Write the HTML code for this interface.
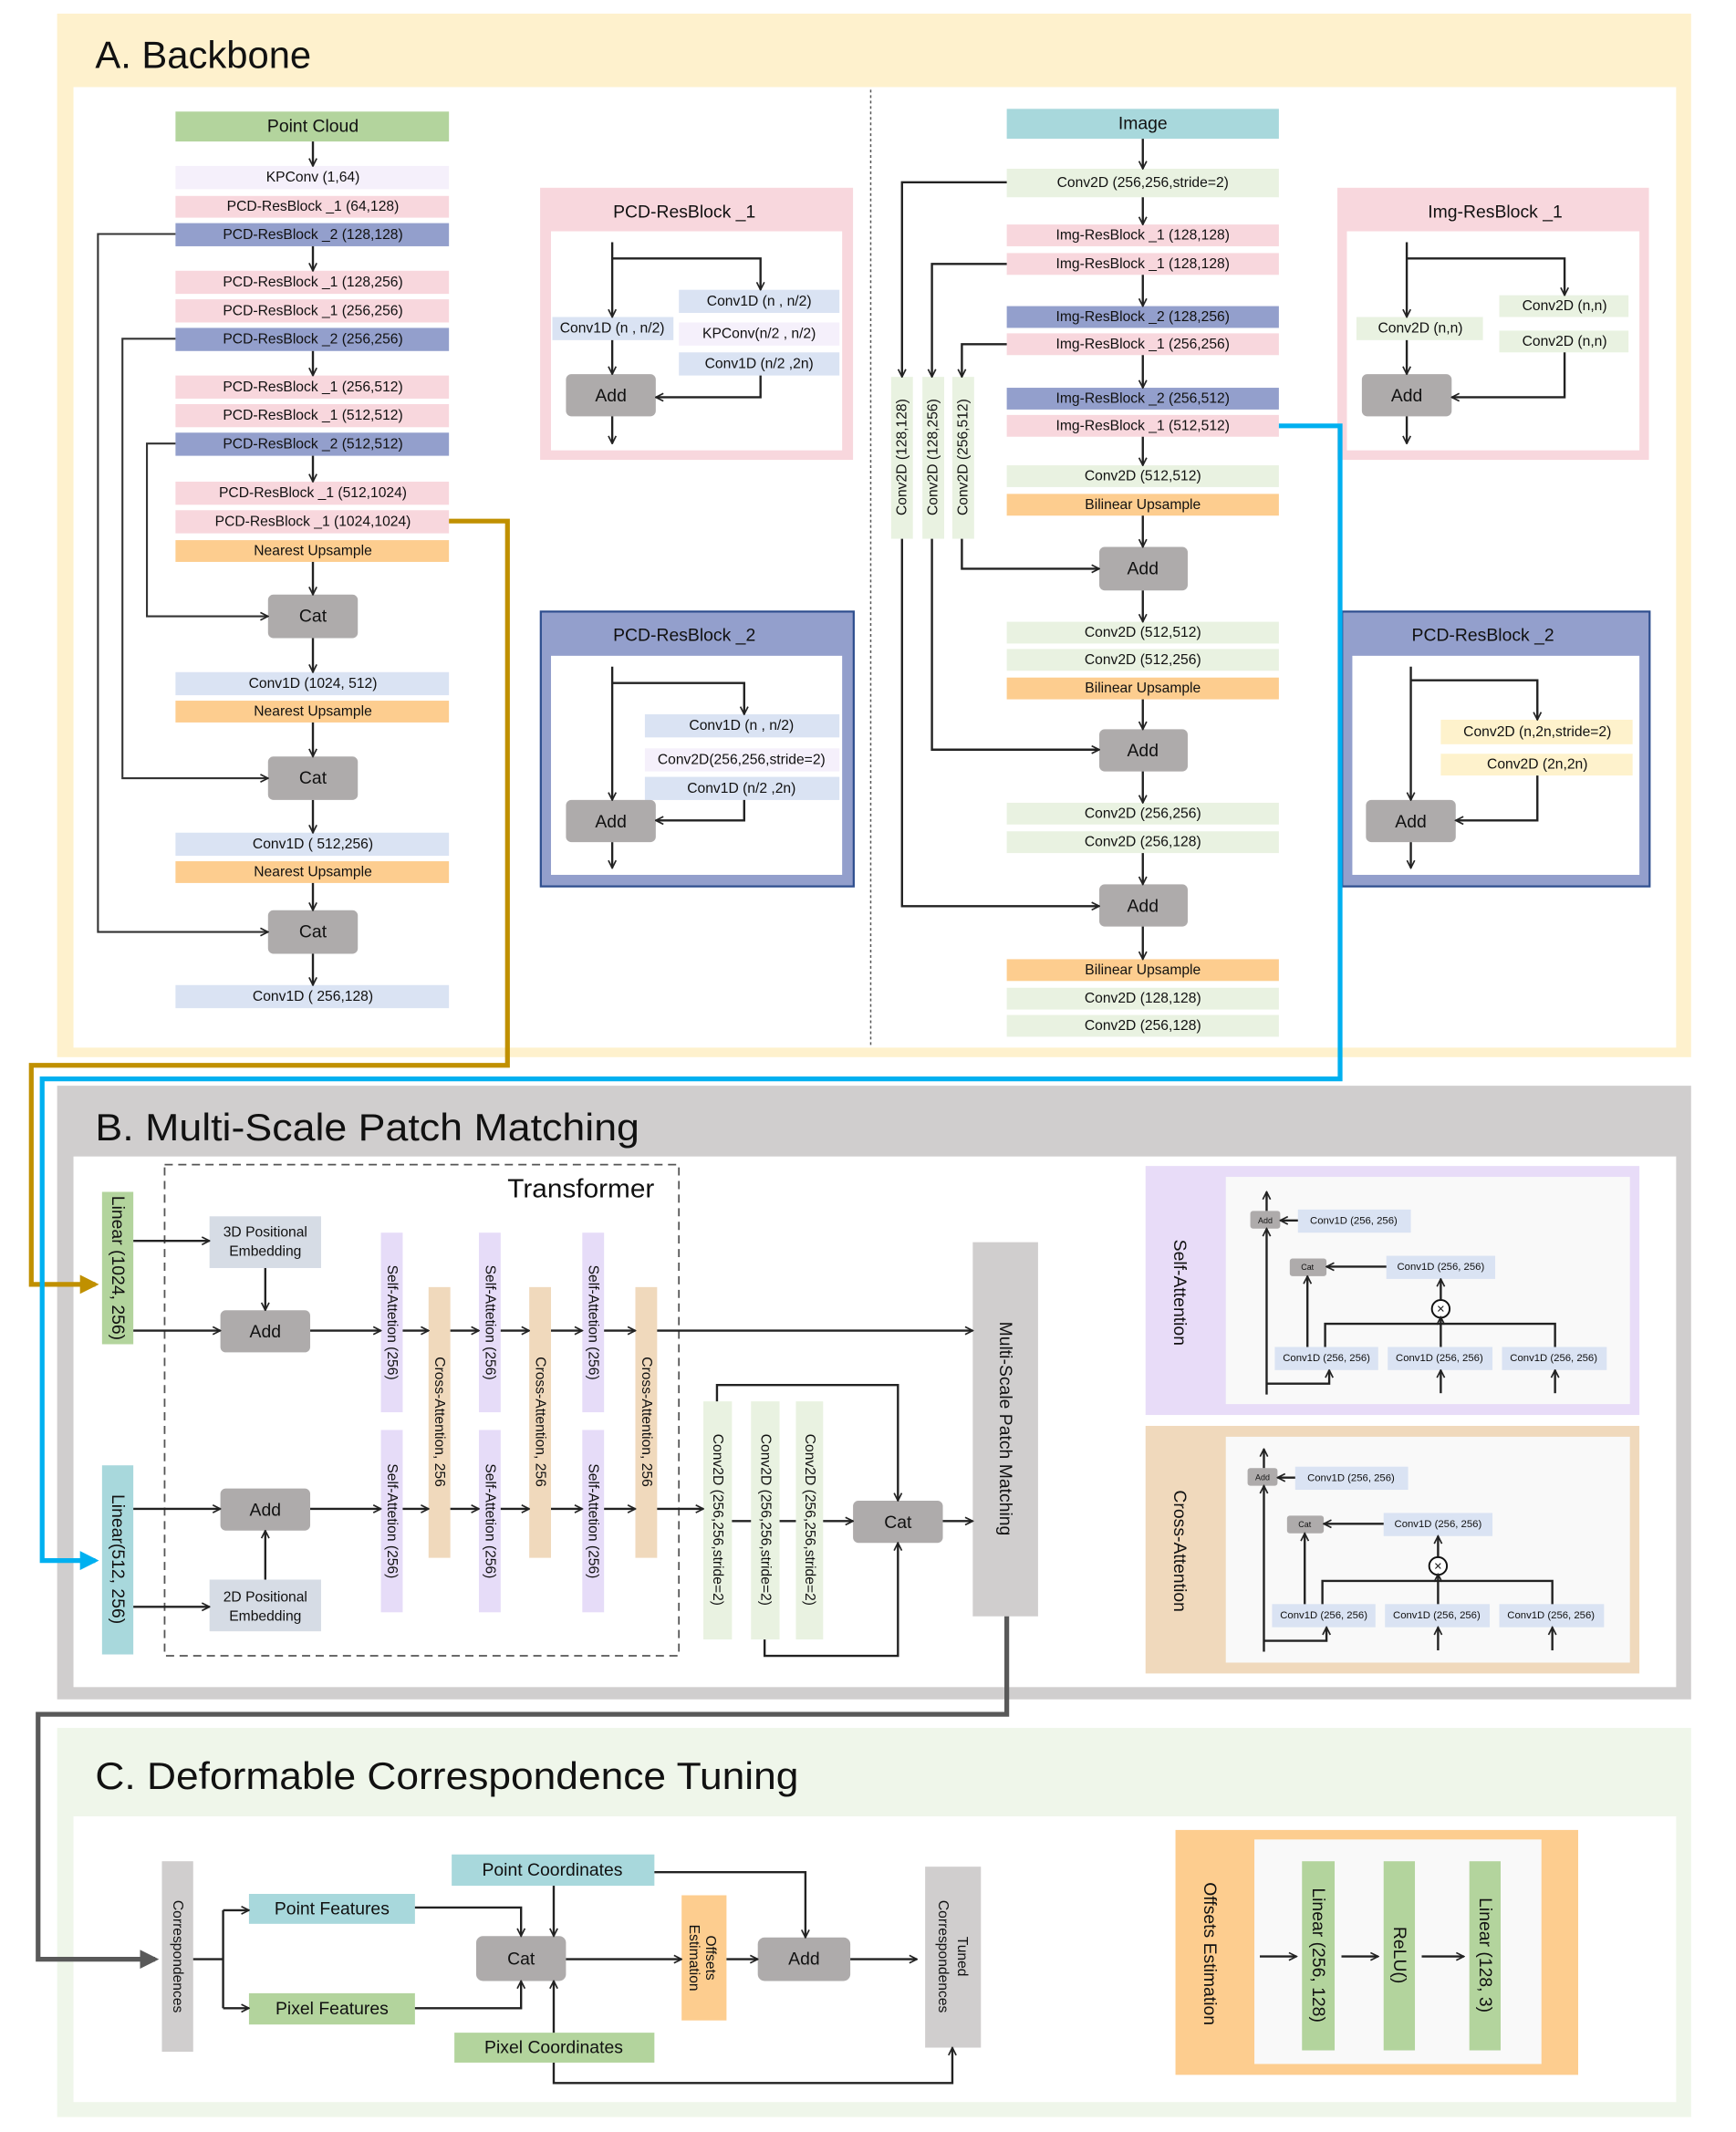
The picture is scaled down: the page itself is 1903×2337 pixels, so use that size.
<!DOCTYPE html>
<html><head><meta charset="utf-8"><style>
html,body{margin:0;padding:0;background:#fff}
svg{display:block}
text{font-family:"Liberation Sans",sans-serif;fill:#111}
.s{font-size:10.5px;text-anchor:middle;dominant-baseline:central}
.m{font-size:13px;text-anchor:middle;dominant-baseline:central}
.t{font-size:7.6px;text-anchor:middle;dominant-baseline:central}
.l{stroke:#333;stroke-width:1.4;fill:none}
.k{stroke:#222;stroke-width:1.6;fill:none}
</style></head><body>
<svg width="1903" height="2337" viewBox="0 0 1276 1567" preserveAspectRatio="none" xmlns="http://www.w3.org/2000/svg">
<defs>
<marker id="a" viewBox="0 0 10 10" refX="9" refY="5" markerWidth="7" markerHeight="7" orient="auto" markerUnits="userSpaceOnUse"><path d="M1,1 L9,5 L1,9" fill="none" stroke="#222" stroke-width="1.6"/></marker>
<marker id="g" viewBox="0 0 10 10" refX="8" refY="5" markerWidth="4" markerHeight="4" orient="auto"><path d="M0,0 L10,5 L0,10z" fill="#c09000"/></marker>
<marker id="c" viewBox="0 0 10 10" refX="8" refY="5" markerWidth="4" markerHeight="4" orient="auto"><path d="M0,0 L10,5 L0,10z" fill="#00b0f0"/></marker>
<marker id="d" viewBox="0 0 10 10" refX="8" refY="5" markerWidth="4" markerHeight="4" orient="auto"><path d="M0,0 L10,5 L0,10z" fill="#595959"/></marker>
</defs>

<!-- ===== A ===== -->
<rect x="42" y="10" width="1201" height="767" fill="#fef1cd"/>
<rect x="54" y="64" width="1178" height="706" fill="#fff"/>
<text x="70" y="50" font-size="28">A. Backbone</text>
<line x1="640" y1="66" x2="640" y2="770" stroke="#555" stroke-width="1" stroke-dasharray="2,2"/>

<g>
<rect x="129" y="82" width="201" height="22" fill="#b3d49d"/><text class="m" x="230" y="93">Point Cloud</text>
<rect x="129" y="122" width="201" height="17" fill="#f5f0fb"/><text class="s" x="230" y="130.5">KPConv (1,64)</text>
<rect x="129" y="144" width="201" height="16" fill="#f8d7dd"/><text class="s" x="230" y="152">PCD-ResBlock _1 (64,128)</text>
<rect x="129" y="164" width="201" height="17" fill="#939fcc"/><text class="s" x="230" y="172.5">PCD-ResBlock _2 (128,128)</text>
<rect x="129" y="199" width="201" height="17" fill="#f8d7dd"/><text class="s" x="230" y="207.5">PCD-ResBlock _1 (128,256)</text>
<rect x="129" y="220" width="201" height="17" fill="#f8d7dd"/><text class="s" x="230" y="228.5">PCD-ResBlock _1 (256,256)</text>
<rect x="129" y="241" width="201" height="17" fill="#939fcc"/><text class="s" x="230" y="249.5">PCD-ResBlock _2 (256,256)</text>
<rect x="129" y="276" width="201" height="17" fill="#f8d7dd"/><text class="s" x="230" y="284.5">PCD-ResBlock _1 (256,512)</text>
<rect x="129" y="297" width="201" height="17" fill="#f8d7dd"/><text class="s" x="230" y="305.5">PCD-ResBlock _1 (512,512)</text>
<rect x="129" y="318" width="201" height="17" fill="#939fcc"/><text class="s" x="230" y="326.5">PCD-ResBlock _2 (512,512)</text>
<rect x="129" y="354" width="201" height="17" fill="#f8d7dd"/><text class="s" x="230" y="362.5">PCD-ResBlock _1 (512,1024)</text>
<rect x="129" y="375" width="201" height="17" fill="#f8d7dd"/><text class="s" x="230" y="383.5">PCD-ResBlock _1 (1024,1024)</text>
<rect x="129" y="397" width="201" height="16" fill="#fdcd8f"/><text class="s" x="230" y="405">Nearest Upsample</text>
<rect x="197" y="437" width="66" height="32" rx="4" fill="#aeabab"/><text class="m" x="230" y="453">Cat</text>
<rect x="129" y="494" width="201" height="17" fill="#dae3f3"/><text class="s" x="230" y="502.5">Conv1D (1024, 512)</text>
<rect x="129" y="515" width="201" height="16" fill="#fdcd8f"/><text class="s" x="230" y="523">Nearest Upsample</text>
<rect x="197" y="556" width="66" height="32" rx="4" fill="#aeabab"/><text class="m" x="230" y="572">Cat</text>
<rect x="129" y="612" width="201" height="17" fill="#dae3f3"/><text class="s" x="230" y="620.5">Conv1D ( 512,256)</text>
<rect x="129" y="633" width="201" height="16" fill="#fdcd8f"/><text class="s" x="230" y="641">Nearest Upsample</text>
<rect x="197" y="669" width="66" height="32" rx="4" fill="#aeabab"/><text class="m" x="230" y="685">Cat</text>
<rect x="129" y="724" width="201" height="17" fill="#dae3f3"/><text class="s" x="230" y="732.5">Conv1D ( 256,128)</text>
<g class="k">
<line x1="230" y1="104" x2="230" y2="122" marker-end="url(#a)"/>
<line x1="230" y1="181" x2="230" y2="199" marker-end="url(#a)"/>
<line x1="230" y1="258" x2="230" y2="276" marker-end="url(#a)"/>
<line x1="230" y1="335" x2="230" y2="354" marker-end="url(#a)"/>
<line x1="230" y1="413" x2="230" y2="437" marker-end="url(#a)"/>
<line x1="230" y1="469" x2="230" y2="494" marker-end="url(#a)"/>
<line x1="230" y1="531" x2="230" y2="556" marker-end="url(#a)"/>
<line x1="230" y1="588" x2="230" y2="612" marker-end="url(#a)"/>
<line x1="230" y1="649" x2="230" y2="669" marker-end="url(#a)"/>
<line x1="230" y1="701" x2="230" y2="724" marker-end="url(#a)"/>
</g>
<g class="l">
<polyline points="129,172 72,172 72,685 197,685" marker-end="url(#a)"/>
<polyline points="129,249 90,249 90,572 197,572" marker-end="url(#a)"/>
<polyline points="129,326 108,326 108,453 197,453" marker-end="url(#a)"/>
</g>
</g>

<rect x="397" y="138" width="230" height="200" fill="#f8d7dd"/>
<rect x="405" y="170" width="214" height="161" fill="#fff"/>
<text x="503" y="156" class="m">PCD-ResBlock _1</text>
<rect x="406" y="233" width="89" height="17" fill="#dae3f3"/><text class="s" x="450" y="241.5">Conv1D (n , n/2)</text>
<rect x="499" y="213" width="118" height="17" fill="#dae3f3"/><text class="s" x="558" y="221.5">Conv1D (n , n/2)</text>
<rect x="499" y="237" width="118" height="17" fill="#f5f0fb"/><text class="s" x="558" y="245.5">KPConv(n/2 , n/2)</text>
<rect x="499" y="259" width="118" height="17" fill="#dae3f3"/><text class="s" x="558" y="267.5">Conv1D (n/2 ,2n)</text>
<rect x="416" y="275" width="66" height="31" rx="4" fill="#aeabab"/><text class="m" x="449" y="291">Add</text>
<g class="k">
<line x1="450" y1="178" x2="450" y2="233" marker-end="url(#a)"/>
<polyline points="450,190 559,190 559,213" marker-end="url(#a)"/>
<line x1="450" y1="250" x2="450" y2="275" marker-end="url(#a)"/>
<polyline points="559,276 559,292 482,292" marker-end="url(#a)"/>
<line x1="450" y1="306" x2="450" y2="326" marker-end="url(#a)"/>
</g>

<rect x="397.5" y="449.5" width="230" height="202" fill="#939fcc" stroke="#2f4f8f" stroke-width="1.5"/>
<rect x="405" y="482" width="214" height="161" fill="#fff"/>
<text x="503" y="467" class="m">PCD-ResBlock _2</text>
<rect x="474" y="525" width="143" height="17" fill="#dae3f3"/><text class="s" x="545" y="533.5">Conv1D (n , n/2)</text>
<rect x="474" y="550" width="143" height="17" fill="#f5f0fb"/><text class="s" x="545" y="558.5">Conv2D(256,256,stride=2)</text>
<rect x="474" y="571" width="143" height="17" fill="#dae3f3"/><text class="s" x="545" y="579.5">Conv1D (n/2 ,2n)</text>
<rect x="416" y="588" width="66" height="31" rx="4" fill="#aeabab"/><text class="m" x="449" y="604">Add</text>
<g class="k">
<line x1="450" y1="490" x2="450" y2="588" marker-end="url(#a)"/>
<polyline points="450,502 547,502 547,525" marker-end="url(#a)"/>
<polyline points="547,588 547,603 482,603" marker-end="url(#a)"/>
<line x1="450" y1="619" x2="450" y2="638" marker-end="url(#a)"/>
</g>

<g>
<rect x="740" y="80" width="200" height="22" fill="#a8d8dc"/><text class="m" x="840" y="91">Image</text>
<rect x="740" y="124" width="200" height="21" fill="#e9f2e1"/><text class="s" x="840" y="134.5">Conv2D (256,256,stride=2)</text>
<rect x="740" y="165" width="200" height="16" fill="#f8d7dd"/><text class="s" x="840" y="173">Img-ResBlock _1 (128,128)</text>
<rect x="740" y="186" width="200" height="16" fill="#f8d7dd"/><text class="s" x="840" y="194">Img-ResBlock _1 (128,128)</text>
<rect x="740" y="225" width="200" height="16" fill="#939fcc"/><text class="s" x="840" y="233">Img-ResBlock _2 (128,256)</text>
<rect x="740" y="245" width="200" height="16" fill="#f8d7dd"/><text class="s" x="840" y="253">Img-ResBlock _1 (256,256)</text>
<rect x="740" y="285" width="200" height="16" fill="#939fcc"/><text class="s" x="840" y="293">Img-ResBlock _2 (256,512)</text>
<rect x="740" y="305" width="200" height="16" fill="#f8d7dd"/><text class="s" x="840" y="313">Img-ResBlock _1 (512,512)</text>
<rect x="740" y="342" width="200" height="16" fill="#e9f2e1"/><text class="s" x="840" y="350">Conv2D (512,512)</text>
<rect x="740" y="363" width="200" height="16" fill="#fdcd8f"/><text class="s" x="840" y="371">Bilinear Upsample</text>
<rect x="808" y="402" width="65" height="32" rx="4" fill="#aeabab"/><text class="m" x="840" y="418">Add</text>
<rect x="740" y="457" width="200" height="16" fill="#e9f2e1"/><text class="s" x="840" y="465">Conv2D (512,512)</text>
<rect x="740" y="477" width="200" height="16" fill="#e9f2e1"/><text class="s" x="840" y="485">Conv2D (512,256)</text>
<rect x="740" y="498" width="200" height="16" fill="#fdcd8f"/><text class="s" x="840" y="506">Bilinear Upsample</text>
<rect x="808" y="536" width="65" height="31" rx="4" fill="#aeabab"/><text class="m" x="840" y="552">Add</text>
<rect x="740" y="590" width="200" height="16" fill="#e9f2e1"/><text class="s" x="840" y="598">Conv2D (256,256)</text>
<rect x="740" y="611" width="200" height="16" fill="#e9f2e1"/><text class="s" x="840" y="619">Conv2D (256,128)</text>
<rect x="808" y="650" width="65" height="31" rx="4" fill="#aeabab"/><text class="m" x="840" y="666">Add</text>
<rect x="740" y="705" width="200" height="16" fill="#fdcd8f"/><text class="s" x="840" y="713">Bilinear Upsample</text>
<rect x="740" y="726" width="200" height="16" fill="#e9f2e1"/><text class="s" x="840" y="734">Conv2D (128,128)</text>
<rect x="740" y="746" width="200" height="16" fill="#e9f2e1"/><text class="s" x="840" y="754">Conv2D (256,128)</text>
<rect x="655" y="277" width="16" height="119" fill="#e9f2e1"/><text class="s" transform="translate(663,336) rotate(-90)">Conv2D (128,128)</text>
<rect x="678" y="277" width="16" height="119" fill="#e9f2e1"/><text class="s" transform="translate(686,336) rotate(-90)">Conv2D (128,256)</text>
<rect x="700" y="277" width="16" height="119" fill="#e9f2e1"/><text class="s" transform="translate(708,336) rotate(-90)">Conv2D (256,512)</text>
<g class="k">
<line x1="840" y1="102" x2="840" y2="124" marker-end="url(#a)"/>
<line x1="840" y1="145" x2="840" y2="165" marker-end="url(#a)"/>
<line x1="840" y1="202" x2="840" y2="225" marker-end="url(#a)"/>
<line x1="840" y1="261" x2="840" y2="285" marker-end="url(#a)"/>
<line x1="840" y1="321" x2="840" y2="342" marker-end="url(#a)"/>
<line x1="840" y1="379" x2="840" y2="402" marker-end="url(#a)"/>
<line x1="840" y1="434" x2="840" y2="457" marker-end="url(#a)"/>
<line x1="840" y1="514" x2="840" y2="536" marker-end="url(#a)"/>
<line x1="840" y1="567" x2="840" y2="590" marker-end="url(#a)"/>
<line x1="840" y1="627" x2="840" y2="650" marker-end="url(#a)"/>
<line x1="840" y1="681" x2="840" y2="705" marker-end="url(#a)"/>
<polyline points="740,134 663,134 663,277" marker-end="url(#a)"/>
<polyline points="740,194 685,194 685,277" marker-end="url(#a)"/>
<polyline points="740,253 707,253 707,277" marker-end="url(#a)"/>
<polyline points="707,396 707,418 808,418" marker-end="url(#a)"/>
<polyline points="685,396 685,551 808,551" marker-end="url(#a)"/>
<polyline points="663,396 663,666 808,666" marker-end="url(#a)"/>
</g>
</g>

<rect x="983" y="138" width="229" height="200" fill="#f8d7dd"/>
<rect x="990" y="170" width="215" height="161" fill="#fff"/>
<text x="1099" y="156" class="m">Img-ResBlock _1</text>
<rect x="997" y="233" width="93" height="17" fill="#e9f2e1"/><text class="s" x="1044" y="241.5">Conv2D (n,n)</text>
<rect x="1102" y="217" width="95" height="16" fill="#e9f2e1"/><text class="s" x="1150" y="225">Conv2D (n,n)</text>
<rect x="1102" y="243" width="95" height="16" fill="#e9f2e1"/><text class="s" x="1150" y="251">Conv2D (n,n)</text>
<rect x="1001" y="275" width="66" height="31" rx="4" fill="#aeabab"/><text class="m" x="1034" y="291">Add</text>
<g class="k">
<line x1="1034" y1="178" x2="1034" y2="233" marker-end="url(#a)"/>
<polyline points="1034,190 1150,190 1150,217" marker-end="url(#a)"/>
<line x1="1034" y1="250" x2="1034" y2="275" marker-end="url(#a)"/>
<polyline points="1150,259 1150,292 1067,292" marker-end="url(#a)"/>
<line x1="1034" y1="306" x2="1034" y2="326" marker-end="url(#a)"/>
</g>

<rect x="986.5" y="449.5" width="226" height="202" fill="#939fcc" stroke="#2f4f8f" stroke-width="1.5"/>
<rect x="994" y="482" width="211" height="161" fill="#fff"/>
<text x="1090" y="467" class="m">PCD-ResBlock _2</text>
<rect x="1059" y="529" width="141" height="18" fill="#fef2cc"/><text class="s" x="1130" y="538">Conv2D (n,2n,stride=2)</text>
<rect x="1059" y="554" width="141" height="16" fill="#fef2cc"/><text class="s" x="1130" y="562">Conv2D (2n,2n)</text>
<rect x="1004" y="588" width="66" height="31" rx="4" fill="#aeabab"/><text class="m" x="1037" y="604">Add</text>
<g class="k">
<line x1="1037" y1="490" x2="1037" y2="588" marker-end="url(#a)"/>
<polyline points="1037,500 1130,500 1130,529" marker-end="url(#a)"/>
<polyline points="1130,570 1130,603 1070,603" marker-end="url(#a)"/>
<line x1="1037" y1="619" x2="1037" y2="638" marker-end="url(#a)"/>
</g>

<!-- ===== B ===== -->
<rect x="42" y="798" width="1201" height="451" fill="#d0cece"/>
<rect x="54" y="850" width="1178" height="390" fill="#fff"/>
<text x="70" y="838" font-size="28" textLength="400" lengthAdjust="spacingAndGlyphs">B. Multi-Scale Patch Matching</text>
<rect x="121" y="856" width="378" height="361" fill="none" stroke="#555" stroke-width="1.2" stroke-dasharray="6,4"/>
<text x="481" y="880" font-size="19" text-anchor="end" textLength="108" lengthAdjust="spacingAndGlyphs">Transformer</text>

<rect x="75" y="876" width="23" height="112" fill="#b3d49d"/><text class="m" transform="translate(86.5,932) rotate(90)">Linear (1024, 256)</text>
<rect x="75" y="1077" width="23" height="139" fill="#a8d8dc"/><text class="m" transform="translate(86.5,1146) rotate(90)">Linear(512, 256)</text>
<rect x="154" y="894" width="82" height="38" fill="#d6dce5"/><text class="s" x="195" y="906">3D Positional</text><text class="s" x="195" y="920">Embedding</text>
<rect x="162" y="963" width="66" height="31" rx="4" fill="#aeabab"/><text class="m" x="195" y="979">Add</text>
<rect x="162" y="1094" width="66" height="31" rx="4" fill="#aeabab"/><text class="m" x="195" y="1110">Add</text>
<rect x="154" y="1161" width="82" height="38" fill="#d6dce5"/><text class="s" x="195" y="1174">2D Positional</text><text class="s" x="195" y="1188">Embedding</text>

<g fill="#e6dcf8">
<rect x="280" y="906" width="16" height="132"/><rect x="352" y="906" width="16" height="132"/><rect x="428" y="906" width="16" height="132"/>
<rect x="280" y="1051" width="16" height="134"/><rect x="352" y="1051" width="16" height="134"/><rect x="428" y="1051" width="16" height="134"/>
</g>
<g fill="#f0d9bc">
<rect x="315" y="946" width="16" height="199"/><rect x="389" y="946" width="16" height="199"/><rect x="467" y="946" width="16" height="199"/>
</g>
<text class="s" transform="translate(288,972) rotate(90)">Self-Attetion (256)</text>
<text class="s" transform="translate(360,972) rotate(90)">Self-Attetion (256)</text>
<text class="s" transform="translate(436,972) rotate(90)">Self-Attetion (256)</text>
<text class="s" transform="translate(288,1118) rotate(90)">Self-Attetion (256)</text>
<text class="s" transform="translate(360,1118) rotate(90)">Self-Attetion (256)</text>
<text class="s" transform="translate(436,1118) rotate(90)">Self-Attetion (256)</text>
<text class="s" transform="translate(323,1045) rotate(90)">Cross-Attention, 256</text>
<text class="s" transform="translate(397,1045) rotate(90)">Cross-Attention, 256</text>
<text class="s" transform="translate(475,1045) rotate(90)">Cross-Attention, 256</text>

<g fill="#e9f2e1">
<rect x="517" y="1030" width="21" height="175"/><rect x="552" y="1030" width="21" height="175"/><rect x="585" y="1030" width="20" height="175"/>
</g>
<text class="s" transform="translate(527.5,1117) rotate(90)">Conv2D (256,256,stride=2)</text>
<text class="s" transform="translate(562.5,1117) rotate(90)">Conv2D (256,256,stride=2)</text>
<text class="s" transform="translate(595,1117) rotate(90)">Conv2D (256,256,stride=2)</text>
<rect x="627" y="1103" width="66" height="31" rx="4" fill="#aeabab"/><text class="m" x="660" y="1119">Cat</text>
<rect x="715" y="913" width="48" height="275" fill="#d0cece"/><text class="m" font-size="20" transform="translate(739,1050) rotate(90)">Multi-Scale Patch Matching</text>

<g class="k">
<line x1="98" y1="912" x2="154" y2="912" marker-end="url(#a)"/>
<line x1="98" y1="978" x2="162" y2="978" marker-end="url(#a)"/>
<line x1="195" y1="932" x2="195" y2="963" marker-end="url(#a)"/>
<line x1="98" y1="1109" x2="162" y2="1109" marker-end="url(#a)"/>
<line x1="98" y1="1181" x2="154" y2="1181" marker-end="url(#a)"/>
<line x1="195" y1="1161" x2="195" y2="1125" marker-end="url(#a)"/>
<line x1="228" y1="978" x2="280" y2="978" marker-end="url(#a)"/>
<line x1="296" y1="978" x2="315" y2="978" marker-end="url(#a)"/>
<line x1="331" y1="978" x2="352" y2="978" marker-end="url(#a)"/>
<line x1="368" y1="978" x2="389" y2="978" marker-end="url(#a)"/>
<line x1="405" y1="978" x2="428" y2="978" marker-end="url(#a)"/>
<line x1="444" y1="978" x2="467" y2="978" marker-end="url(#a)"/>
<line x1="483" y1="978" x2="715" y2="978" marker-end="url(#a)"/>
<line x1="228" y1="1109" x2="280" y2="1109" marker-end="url(#a)"/>
<line x1="296" y1="1109" x2="315" y2="1109" marker-end="url(#a)"/>
<line x1="331" y1="1109" x2="352" y2="1109" marker-end="url(#a)"/>
<line x1="368" y1="1109" x2="389" y2="1109" marker-end="url(#a)"/>
<line x1="405" y1="1109" x2="428" y2="1109" marker-end="url(#a)"/>
<line x1="444" y1="1109" x2="467" y2="1109" marker-end="url(#a)"/>
<line x1="483" y1="1109" x2="517" y2="1109" marker-end="url(#a)"/>
<line x1="538" y1="1118" x2="552" y2="1118"/>
<line x1="573" y1="1118" x2="585" y2="1118"/>
<line x1="605" y1="1118" x2="627" y2="1118" marker-end="url(#a)"/>
<line x1="693" y1="1118" x2="715" y2="1118" marker-end="url(#a)"/>
<polyline points="527,1030 527,1018 660,1018 660,1103" marker-end="url(#a)"/>
<polyline points="562,1205 562,1217 660,1217 660,1134" marker-end="url(#a)"/>
</g>

<g>
<rect x="842" y="857" width="363" height="183" fill="#e8dcf8"/>
<rect x="901" y="865" width="297" height="167" fill="#f9f9f9"/>
<text class="m" font-size="15" transform="translate(867,950) rotate(90)">Self-Attention</text>
<g id="att">
<rect x="919" y="890" width="22" height="13" rx="2" fill="#aeabab"/><text x="930" y="897" font-size="6" text-anchor="middle" dominant-baseline="central">Add</text>
<rect x="954" y="889" width="83" height="17" fill="#dae3f3"/><text class="t" x="995" y="897.5">Conv1D (256, 256)</text>
<rect x="948" y="925" width="27" height="13" rx="2" fill="#aeabab"/><text x="961" y="931.5" font-size="6" text-anchor="middle" dominant-baseline="central">Cat</text>
<rect x="1019" y="923" width="80" height="17" fill="#dae3f3"/><text class="t" x="1059" y="931.5">Conv1D (256, 256)</text>
<rect x="937" y="990" width="76" height="17" fill="#dae3f3"/><text class="t" x="975" y="998.5">Conv1D (256, 256)</text>
<rect x="1020" y="990" width="77" height="17" fill="#dae3f3"/><text class="t" x="1058" y="998.5">Conv1D (256, 256)</text>
<rect x="1104" y="990" width="77" height="17" fill="#dae3f3"/><text class="t" x="1142" y="998.5">Conv1D (256, 256)</text>
<circle cx="1059" cy="962" r="6.5" fill="#fff" stroke="#111" stroke-width="1.3"/><text x="1059" y="962.5" font-size="10" text-anchor="middle" dominant-baseline="central">×</text>
<g class="k">
<line x1="931" y1="1025" x2="931" y2="903" marker-end="url(#a)"/>
<line x1="931" y1="890" x2="931" y2="876" marker-end="url(#a)"/>
<line x1="954" y1="897" x2="941" y2="897" marker-end="url(#a)"/>
<polyline points="931,1017 977,1017 977,1007" marker-end="url(#a)"/>
<line x1="961" y1="990" x2="961" y2="938" marker-end="url(#a)"/>
<line x1="1019" y1="931" x2="975" y2="931" marker-end="url(#a)"/>
<polyline points="974,990 974,973 1143,973 1143,990"/>
<line x1="1059" y1="990" x2="1059" y2="968" marker-end="url(#a)"/>
<line x1="1059" y1="955" x2="1059" y2="940" marker-end="url(#a)"/>
<line x1="1059" y1="1024" x2="1059" y2="1007" marker-end="url(#a)"/>
<line x1="1143" y1="1024" x2="1143" y2="1007" marker-end="url(#a)"/>
</g>
</g>
</g>
<g>
<rect x="842" y="1048" width="363" height="182" fill="#f0d9bc"/>
<rect x="901" y="1056" width="297" height="166" fill="#f9f9f9"/>
<text class="m" font-size="15" transform="translate(867,1140) rotate(90)">Cross-Attention</text>
<g transform="translate(-2,189)">
<rect x="919" y="890" width="22" height="13" rx="2" fill="#aeabab"/><text x="930" y="897" font-size="6" text-anchor="middle" dominant-baseline="central">Add</text>
<rect x="954" y="889" width="83" height="17" fill="#dae3f3"/><text class="t" x="995" y="897.5">Conv1D (256, 256)</text>
<rect x="948" y="925" width="27" height="13" rx="2" fill="#aeabab"/><text x="961" y="931.5" font-size="6" text-anchor="middle" dominant-baseline="central">Cat</text>
<rect x="1019" y="923" width="80" height="17" fill="#dae3f3"/><text class="t" x="1059" y="931.5">Conv1D (256, 256)</text>
<rect x="937" y="990" width="76" height="17" fill="#dae3f3"/><text class="t" x="975" y="998.5">Conv1D (256, 256)</text>
<rect x="1020" y="990" width="77" height="17" fill="#dae3f3"/><text class="t" x="1058" y="998.5">Conv1D (256, 256)</text>
<rect x="1104" y="990" width="77" height="17" fill="#dae3f3"/><text class="t" x="1142" y="998.5">Conv1D (256, 256)</text>
<circle cx="1059" cy="962" r="6.5" fill="#fff" stroke="#111" stroke-width="1.3"/><text x="1059" y="962.5" font-size="10" text-anchor="middle" dominant-baseline="central">×</text>
<g class="k">
<line x1="931" y1="1025" x2="931" y2="903" marker-end="url(#a)"/>
<line x1="931" y1="890" x2="931" y2="876" marker-end="url(#a)"/>
<line x1="954" y1="897" x2="941" y2="897" marker-end="url(#a)"/>
<polyline points="931,1017 977,1017 977,1007" marker-end="url(#a)"/>
<line x1="961" y1="990" x2="961" y2="938" marker-end="url(#a)"/>
<line x1="1019" y1="931" x2="975" y2="931" marker-end="url(#a)"/>
<polyline points="974,990 974,973 1143,973 1143,990"/>
<line x1="1059" y1="990" x2="1059" y2="968" marker-end="url(#a)"/>
<line x1="1059" y1="955" x2="1059" y2="940" marker-end="url(#a)"/>
<line x1="1059" y1="1024" x2="1059" y2="1007" marker-end="url(#a)"/>
<line x1="1143" y1="1024" x2="1143" y2="1007" marker-end="url(#a)"/>
</g>
</g>
</g>

<!-- ===== C ===== -->
<rect x="42" y="1270" width="1201" height="286" fill="#eff6ea"/>
<rect x="54" y="1335" width="1178" height="210" fill="#fff"/>
<text x="70" y="1315" font-size="28" textLength="517" lengthAdjust="spacingAndGlyphs">C. Deformable Correspondence Tuning</text>
<rect x="119" y="1368" width="23" height="140" fill="#d0cece"/><text class="s" font-size="11" transform="translate(130.5,1438) rotate(90)">Correspondences</text>
<rect x="183" y="1392" width="122" height="22" fill="#a8d8dc"/><text class="m" x="244" y="1403">Point Features</text>
<rect x="183" y="1465" width="122" height="23" fill="#b3d49d"/><text class="m" x="244" y="1476.5">Pixel Features</text>
<rect x="332" y="1363" width="149" height="23" fill="#a8d8dc"/><text class="m" x="406" y="1374.5">Point Coordinates</text>
<rect x="334" y="1494" width="147" height="22" fill="#b3d49d"/><text class="m" x="407" y="1505">Pixel Coordinates</text>
<rect x="350" y="1423" width="66" height="33" rx="5" fill="#aeabab"/><text class="m" x="383" y="1440">Cat</text>
<rect x="501" y="1393" width="33" height="92" fill="#fdcd8f"/>
<text class="s" font-size="10" transform="translate(522,1439) rotate(90)">Offsets</text>
<text class="s" font-size="10" transform="translate(510,1439) rotate(90)">Estimation</text>
<rect x="557" y="1424" width="68" height="32" rx="5" fill="#aeabab"/><text class="m" x="591" y="1440">Add</text>
<rect x="680" y="1372" width="41" height="133" fill="#d0cece"/>
<text class="s" font-size="11" transform="translate(707,1438) rotate(90)">Tuned</text>
<text class="s" font-size="11" transform="translate(693,1438) rotate(90)">Correspondences</text>
<g class="k">
<line x1="142" y1="1440" x2="164" y2="1440"/>
<polyline points="164,1404 164,1476"/>
<line x1="164" y1="1404" x2="183" y2="1404" marker-end="url(#a)"/>
<line x1="164" y1="1476" x2="183" y2="1476" marker-end="url(#a)"/>
<polyline points="305,1402 383,1402 383,1423" marker-end="url(#a)"/>
<line x1="407" y1="1386" x2="407" y2="1423" marker-end="url(#a)"/>
<polyline points="305,1476 383,1476 383,1456" marker-end="url(#a)"/>
<line x1="407" y1="1494" x2="407" y2="1456" marker-end="url(#a)"/>
<polyline points="481,1376 592,1376 592,1424" marker-end="url(#a)"/>
<line x1="416" y1="1440" x2="501" y2="1440" marker-end="url(#a)"/>
<line x1="534" y1="1440" x2="557" y2="1440" marker-end="url(#a)"/>
<line x1="625" y1="1440" x2="674" y2="1440" marker-end="url(#a)"/>
<polyline points="407,1516 407,1531 700,1531 700,1505" marker-end="url(#a)"/>
</g>
<rect x="864" y="1345" width="296" height="180" fill="#fdcd8f"/>
<rect x="922" y="1352" width="211" height="165" fill="#f9f9f9"/>
<text class="m" font-size="14" transform="translate(889,1436) rotate(90)">Offsets Estimation</text>
<rect x="957" y="1368" width="24" height="139" fill="#b3d49d"/><text class="m" font-size="12" transform="translate(969,1437) rotate(90)">Linear (256, 128)</text>
<rect x="1017" y="1368" width="23" height="139" fill="#b3d49d"/><text class="m" font-size="12" transform="translate(1028.5,1437) rotate(90)">ReLU()</text>
<rect x="1080" y="1368" width="23" height="139" fill="#b3d49d"/><text class="m" font-size="12" transform="translate(1091.5,1437) rotate(90)">Linear (128, 3)</text>
<g class="k">
<line x1="926" y1="1438" x2="953" y2="1438" marker-end="url(#a)"/>
<line x1="986" y1="1438" x2="1013" y2="1438" marker-end="url(#a)"/>
<line x1="1045" y1="1438" x2="1076" y2="1438" marker-end="url(#a)"/>
</g>

<polyline points="330,383 373,383 373,783 23,783 23,944 70,944" fill="none" stroke="#c09000" stroke-width="3.5" marker-end="url(#g)"/>
<polyline points="940,313 985,313 985,793 31,793 31,1147 70,1147" fill="none" stroke="#00b0f0" stroke-width="3.5" marker-end="url(#c)"/>
<polyline points="740,1188 740,1260 28,1260 28,1440 114,1440" fill="none" stroke="#595959" stroke-width="3.5" marker-end="url(#d)"/>
</svg>
</body></html>
